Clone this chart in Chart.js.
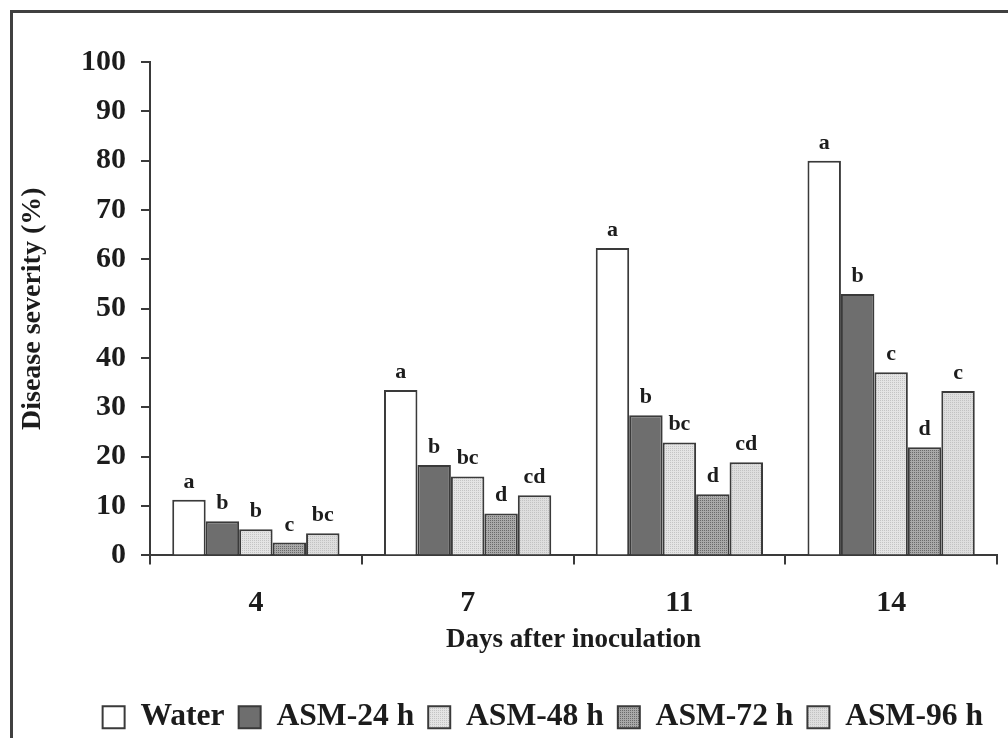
<!DOCTYPE html>
<html>
<head>
<meta charset="utf-8">
<script src="https://cdn.jsdelivr.net/npm/chart.js@4/dist/chart.umd.min.js"></script>
<style>
  html, body { margin: 0; padding: 0; background: #ffffff; }
  #wrap { width: 1008px; height: 738px; position: relative; }
</style>
</head>
<body>
<div id="wrap"><canvas id="c" width="1008" height="738"></canvas></div>
<script>
// ---- data ----
const days = ['4', '7', '11', '14'];
const seriesNames = ['Water', 'ASM-24 h', 'ASM-48 h', 'ASM-72 h', 'ASM-96 h'];
const water = [11.3, 33.5, 62.3, 80.0];
const asm24 = [6.9, 18.3, 28.4, 53.0];
const asm48 = [5.3, 16.0, 22.9, 37.1];
const asm72 = [2.6, 8.5, 12.4, 21.9];
const asm96 = [4.5, 12.2, 18.9, 33.3];
const lettersWater = ['a', 'a', 'a', 'a'];
const letters24 = ['b', 'b', 'b', 'b'];
const letters48 = ['b', 'bc', 'bc', 'c'];
const letters72 = ['c', 'd', 'd', 'd'];
const letters96 = ['bc', 'cd', 'cd', 'c'];
const yTicks = [0, 10, 20, 30, 40, 50, 60, 70, 80, 90, 100];

// ---- styles ----
const FONT = "'Liberation Serif', 'Times New Roman', serif";
const INK = '#1c1c1c';
const EDGE = '#3a3a3a';

function dotPattern(base, dot) {
  const p = document.createElement('canvas');
  p.width = 4; p.height = 4;
  const g = p.getContext('2d');
  g.fillStyle = base; g.fillRect(0, 0, 4, 4);
  g.fillStyle = dot;
  g.fillRect(0, 0, 1, 1); g.fillRect(2, 2, 1, 1);
  g.fillRect(2, 0, 1, 1); g.fillRect(0, 2, 1, 1);
  return document.getElementById('c').getContext('2d').createPattern(p, 'repeat');
}
const fills = [
  '#ffffff',
  '#6e6e6e',
  dotPattern('#e4e4e4', '#c4c4c4'),
  dotPattern('#a9a9a9', '#6a6a6a'),
  dotPattern('#dedede', '#c2c2c2')
];
const values = [water, asm24, asm48, asm72, asm96];
const letters = [lettersWater, letters24, letters48, letters72, letters96];

const frame = {
  id: 'frame',
  afterLayout(chart) {
    if (chart.legend) {
      chart.legend.top += 5;
      chart.legend.bottom += 5;
    }
  },
  beforeDraw(chart) {
    const ctx = chart.ctx;
    ctx.save();
    ctx.fillStyle = '#ffffff';
    ctx.fillRect(0, 0, chart.width, chart.height);
    ctx.strokeStyle = '#404040';
    ctx.lineWidth = 3;
    ctx.beginPath();
    ctx.moveTo(11.5, chart.height);
    ctx.lineTo(11.5, 11.5);
    ctx.lineTo(chart.width, 11.5);
    ctx.stroke();
    ctx.restore();
  }
};

const letterLabels = {
  id: 'letterLabels',
  afterDatasetsDraw(chart) {
    const ctx = chart.ctx;
    ctx.save();
    ctx.font = 'bold 22px ' + FONT;
    ctx.fillStyle = INK;
    ctx.textAlign = 'center';
    ctx.textBaseline = 'alphabetic';
    chart.data.datasets.forEach((ds, di) => {
      const meta = chart.getDatasetMeta(di);
      meta.data.forEach((el, i) => {
        ctx.fillText(letters[di][i], el.x, el.y - 12);
      });
    });
    ctx.restore();
  }
};

new Chart(document.getElementById('c'), {
  type: 'bar',
  data: {
    labels: days,
    datasets: seriesNames.map((name, i) => ({
      label: name,
      data: values[i],
      backgroundColor: fills[i],
      borderColor: EDGE,
      borderWidth: 2,
      borderSkipped: 'bottom',
      categoryPercentage: 0.79,
      barPercentage: 1.0
    }))
  },
  options: {
    responsive: false,
    animation: false,
    devicePixelRatio: 1,
    layout: { padding: { left: 0, right: 11, top: 62, bottom: 0 } },
    plugins: {
      tooltip: { enabled: false },
      legend: {
        position: 'bottom',
        align: 'end',
        labels: {
          font: { family: FONT, size: 31.6, weight: 'bold' },
          color: INK,
          boxWidth: 22,
          boxHeight: 22,
          padding: 14
        }
      }
    },
    scales: {
      x: {
        afterFit(scale) { scale.height = 127; },
        grid: { display: true, drawOnChartArea: false, drawTicks: true, tickLength: 9, color: EDGE, lineWidth: 2 },
        border: { display: true, color: EDGE, width: 2 },
        ticks: { font: { family: FONT, size: 30, weight: 'bold' }, color: INK, padding: 21 },
        title: {
          display: true,
          text: 'Days after inoculation',
          font: { family: FONT, size: 27, weight: 'bold' },
          color: INK,
          padding: { top: 4, bottom: 26 }
        }
      },
      y: {
        min: 0,
        max: 100,
        afterFit(scale) { scale.width = 150; },
        afterBuildTicks(scale) { scale.ticks = yTicks.map(v => ({ value: v })); },
        grid: { display: true, drawOnChartArea: false, drawTicks: true, tickLength: 9, color: EDGE, lineWidth: 2 },
        border: { display: true, color: EDGE, width: 2 },
        ticks: { font: { family: FONT, size: 30, weight: 'bold' }, color: INK, padding: 15 },
        title: {
          display: true,
          text: 'Disease severity (%)',
          font: { family: FONT, size: 28, weight: 'bold' },
          color: INK,
          padding: { top: 16, bottom: 4 }
        }
      }
    }
  },
  plugins: [frame, letterLabels]
});
</script>
</body>
</html>
